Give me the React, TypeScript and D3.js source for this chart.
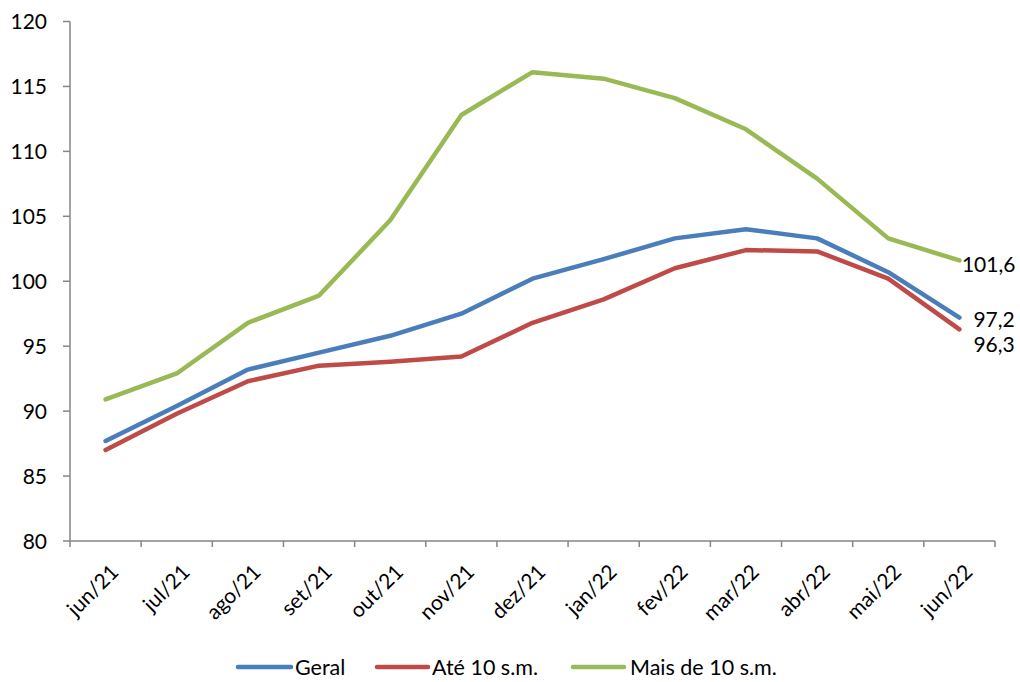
import React from "react";
import * as d3 from "d3";

const categories = ["jun/21","jul/21","ago/21","set/21","out/21","nov/21","dez/21","jan/22","fev/22","mar/22","abr/22","mai/22","jun/22"];
const geral = [87.7, 90.4, 93.2, 94.5, 95.8, 97.5, 100.2, 101.7, 103.3, 104.0, 103.3, 100.7, 97.2];
const ate10 = [87.0, 89.8, 92.3, 93.5, 93.8, 94.2, 96.8, 98.6, 101.0, 102.4, 102.3, 100.2, 96.3];
const mais10 = [90.9, 92.9, 96.8, 98.9, 104.7, 112.8, 116.1, 115.6, 114.1, 111.7, 107.9, 103.3, 101.6];
const yTicks = [80, 85, 90, 95, 100, 105, 110, 115, 120];
const seriesNames = ["Geral", "Até 10 s.m.", "Mais de 10 s.m."];
const endLabels = ["97,2", "96,3", "101,6"];

const colors = ["#4A7EBB", "#BE4B48", "#98B954"];
const FONT = "Lato, 'Open Sans', sans-serif";

export default function App() {
  const W = 1020, H = 682;
  const left = 70, right = 995, top = 21.5, bottom = 541;
  const x = d3.scaleBand<string>().domain(categories).range([left, right]);
  const y = d3.scaleLinear().domain([80, 120]).range([bottom, top]);
  const cx = (c: string) => (x(c) as number) + x.bandwidth() / 2;
  const series = [geral, ate10, mais10];
  const line = d3.line<number>().x((_, i) => cx(categories[i])).y((v) => y(v));
  const boundaries = categories.map((c) => x(c) as number).concat([right]);
  const axisColor = "#868686";
  const last = categories[categories.length - 1];
  const labelPos = [
    { dx: 14, dy: 9.5 },
    { dx: 14, dy: 22.5 },
    { dx: 2.5, dy: 11.5 },
  ];
  const legendItems = [
    { x1: 238, x2: 291, tx: 295 },
    { x1: 377, x2: 428, tx: 432 },
    { x1: 573, x2: 624, tx: 630 },
  ];
  return (
    <svg width={W} height={H} style={{ position: "absolute", left: 0, top: 0, background: "#fff" }} fontFamily={FONT}>
      <line x1={left} x2={left} y1={top} y2={bottom} stroke={axisColor} strokeWidth={1.5} />
      <line x1={left} x2={right} y1={bottom} y2={bottom} stroke={axisColor} strokeWidth={1.5} />
      {yTicks.map((t) => (
        <g key={t}>
          <line x1={left - 7} x2={left} y1={y(t)} y2={y(t)} stroke={axisColor} strokeWidth={1.5} />
          <text x={47} y={y(t)} dy="0.36em" textAnchor="end" fontSize={21} fill="#000">{t}</text>
        </g>
      ))}
      {boundaries.map((b, i) => (
        <line key={i} x1={b} x2={b} y1={bottom} y2={bottom + 6} stroke={axisColor} strokeWidth={1.5} />
      ))}
      {categories.map((c) => (
        <text key={c} transform={`translate(${cx(c) + 9},${bottom + 27}) rotate(-45)`} textAnchor="end" dy="0.36em" fontSize={21} fill="#000">{c}</text>
      ))}
      {series.map((s, i) => (
        <path key={i} d={line(s) as string} fill="none" stroke={colors[i]} strokeWidth={4.5} strokeLinejoin="round" strokeLinecap="round" />
      ))}
      {series.map((s, i) => (
        <text key={i} x={cx(last) + labelPos[i].dx} y={y(s[s.length - 1]) + labelPos[i].dy} fontSize={21} fill="#000">{endLabels[i]}</text>
      ))}
      {seriesNames.map((n, i) => (
        <g key={n}>
          <line x1={legendItems[i].x1} x2={legendItems[i].x2} y1={667} y2={667} stroke={colors[i]} strokeWidth={4.5} strokeLinecap="round" />
          <text x={legendItems[i].tx} y={667} dy="0.36em" fontSize={21.5} fill="#000">{n}</text>
        </g>
      ))}
    </svg>
  );
}
